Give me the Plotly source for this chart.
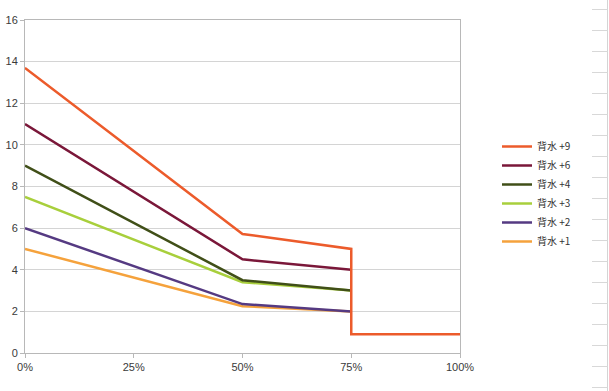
import plotly.graph_objects as go

x_pos = [0, 0.5, 0.75]
x_drop = [0, 0.5, 0.75, 0.75, 1.0]

names = ["背水 +1", "背水 +2", "背水 +3", "背水 +4", "背水 +6", "背水 +9"]
v_p1 = [5.0, 2.25, 2.0]
v_p2 = [6.0, 2.35, 2.0]
v_p3 = [7.5, 3.4, 3.0]
v_p4 = [9.0, 3.5, 3.0]
v_p6 = [11.0, 4.5, 4.0]
v_p9 = [13.7, 5.72, 5.0, 0.9, 0.9]

colors = ["#f5a23c", "#553a82", "#a8cf3c", "#404f18", "#7a1739", "#ec5b2b"]

tick_vals = [0, 0.25, 0.5, 0.75, 1.0]
tick_text = ["0%", "25%", "50%", "75%", "100%"]

series = [v_p1, v_p2, v_p3, v_p4, v_p6, v_p9]
xs = [x_pos, x_pos, x_pos, x_pos, x_pos, x_drop]

fig = go.Figure()
for n, v, xx, c in zip(names, series, xs, colors):
    fig.add_trace(go.Scatter(x=xx, y=v, mode="lines", name=n,
                             line=dict(color=c, width=2.5)))

W, H = 609, 391
L, T = 25, 20
R = W - 460
B = H - 353
pw, ph = W - L - R, H - T - B

def px_x(p):
    return (p - L) / pw

def px_y(p):
    return (H - B - p) / ph

shapes = []
# decorative spreadsheet grid stub at far right edge
shapes.append(dict(type="line", xref="paper", yref="paper",
                   x0=px_x(607.5), x1=px_x(607.5), y0=px_y(0), y1=px_y(391),
                   line=dict(color="#d4d4d4", width=1)))
k = 0
while 9.5 + 21 * k < 391:
    yy = 9.5 + 21 * k
    shapes.append(dict(type="line", xref="paper", yref="paper",
                       x0=px_x(592), x1=px_x(607.5), y0=px_y(yy), y1=px_y(yy),
                       line=dict(color="#d8d8d8", width=1)))
    k += 1

font_fam = "Liberation Sans, Arial, Noto Sans CJK SC, sans-serif"

fig.update_layout(
    width=W, height=H,
    margin=dict(l=L, r=R, t=T, b=B, autoexpand=False),
    paper_bgcolor="white", plot_bgcolor="white",
    font=dict(family=font_fam, size=11, color="#3a3a3a"),
    shapes=shapes,
    showlegend=True,
    legend=dict(x=px_x(497), y=px_y(194), xanchor="left", yanchor="middle",
                traceorder="reversed", itemwidth=30,
                font=dict(family="Noto Sans CJK SC, Liberation Sans, sans-serif", size=10, color="#333"),
                bgcolor="rgba(0,0,0,0)"),
    xaxis=dict(range=[0, 1], tickvals=tick_vals, ticktext=tick_text,
               showgrid=False, zeroline=False, automargin=False,
               showline=True, linecolor="#b8b8b8", linewidth=1, mirror=True,
               ticks="outside", ticklen=4, tickcolor="#b8b8b8",
               tickfont=dict(size=11, color="#3a3a3a")),
    yaxis=dict(range=[0, 16], dtick=2, tick0=0, automargin=False,
               showgrid=True, gridcolor="#d4d4d4", gridwidth=1,
               zeroline=False,
               showline=True, linecolor="#b8b8b8", linewidth=1, mirror=True,
               ticks="outside", ticklen=4, tickcolor="#b8b8b8",
               tickfont=dict(size=11, color="#3a3a3a")),
)

# remove the browser's default 8px body margin so the figure sits at the page origin
fig.write_html("out.html",
               config={"displayModeBar": False},
               post_script="document.body.style.margin='0';document.body.style.overflow='hidden';")
